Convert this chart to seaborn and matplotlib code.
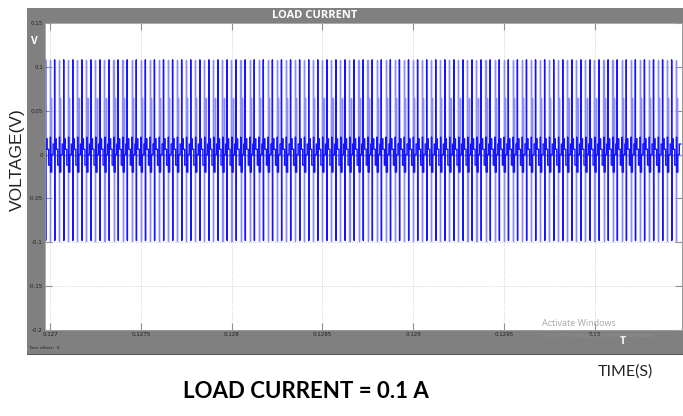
import numpy as np
import pandas as pd
import matplotlib
matplotlib.use("Agg")
import matplotlib.pyplot as plt
from matplotlib.patches import Rectangle
import seaborn as sns

# ---- data ----
t_first = 0.126975          # first switching instant (s)
period_s = 50e-6            # switching period (s)
n_cycles = 70

# one switching cycle of the dark trace (phase in microseconds, value in V)
dark_phase = [0, 0, 0.6, 0.6, 1.2, 1.2, 9, 9, 17, 17, 27, 27, 27.6, 27.6, 34, 34, 42, 42, 50]
dark_value = [0.012, 0.108, 0.108, -0.098, -0.098, 0.018, 0.018, 0.006, 0.006, -0.012,
              -0.012, 0.02, 0.02, -0.02, -0.02, 0.0, 0.0, 0.012, 0.012]
# one switching cycle of the light trace
light_phase = [0, 24, 24, 24.6, 24.6, 25.2, 25.2, 31, 31, 31.6, 31.6, 50]
light_value = [0.0, 0.0, 0.108, 0.108, -0.098, -0.098, 0.0, 0.0, 0.065, 0.065, 0.0, 0.0]

x_ticks = [0.127, 0.1275, 0.128, 0.1285, 0.129, 0.1295, 0.13]
x_tick_labels = ["0.127", "0.1275", "0.128", "0.1285", "0.129", "0.1295", "0.13"]
y_ticks = [0.15, 0.1, 0.05, 0, -0.05, -0.1, -0.15, -0.2]
y_tick_labels = ["0.15", "0.1", "0.05", "0", "-0.05", "-0.1", "-0.15", "-0.2"]

def build(phase, value, trace):
    ts, vs = [], []
    ph = np.array(phase) * 1e-6
    for k in range(n_cycles):
        ts.extend(t_first + k * period_s + ph)
        vs.extend(value)
    return pd.DataFrame({"t": ts, "v": vs, "trace": trace})

df_dark = build(dark_phase, dark_value, "dark")
df_light = build(light_phase, light_value, "light")

W, H = 683, 416
fig = plt.figure(figsize=(W / 100, H / 100), dpi=100)
fig.patch.set_facecolor("white")

def fx(px): return px / W
def fy(py): return 1 - py / H

# gray scope frame
fig.patches.append(Rectangle((fx(27), fy(355)), fx(683) - fx(27), fy(8) - fy(355),
                             transform=fig.transFigure, facecolor="#808080",
                             edgecolor="none", zorder=-5))
fig.patches.append(Rectangle((fx(27), fy(355)), fx(683) - fx(27), 1.2 / H,
                             transform=fig.transFigure, facecolor="#555555",
                             edgecolor="none", zorder=-5))

ax = fig.add_axes([fx(45), fy(330), fx(682) - fx(45), fy(23) - fy(330)])
ax.set_zorder(2)
ax.set_facecolor("white")

sns.lineplot(data=df_light, x="t", y="v", ax=ax, color="#8c8cff", lw=1.0,
             estimator=None, sort=False, legend=False)
sns.lineplot(data=df_dark, x="t", y="v", ax=ax, color="#1414ff", lw=1.0,
             estimator=None, sort=False, legend=False)

ax.set_xlim(0.126972, 0.130482)
ax.set_ylim(-0.2, 0.15)
ax.set_xticks(x_ticks)
ax.set_xticklabels(x_tick_labels)
ax.set_yticks(y_ticks)
ax.set_yticklabels(y_tick_labels)
ax.tick_params(axis="both", direction="in", length=5, width=0.8, color="#909090",
               labelsize=4, labelcolor="#222222", pad=1.5, top=True, right=True)
ax.grid(True, color="#c4c4c4", lw=0.6, linestyle=":")
for s in ax.spines.values():
    s.set_color("#a0a0a0")
    s.set_linewidth(0.6)
ax.set_xlabel("")
ax.set_ylabel("")

# scope texts
fig.text(fx(315), fy(16), "LOAD CURRENT", color="white", fontsize=8,
         fontweight="bold", family="Open Sans", ha="center", va="center", zorder=5)
fig.text(fx(34), fy(42), "V", color="white", fontsize=7.5, fontweight="bold",
         family="Open Sans", ha="center", va="center", zorder=5)
fig.text(fx(623), fy(342), "T", color="white", fontsize=7.5, fontweight="bold",
         family="Open Sans", ha="center", va="center", zorder=5)
fig.text(fx(28), fy(348), "Time offset:  0", color="#222222", fontsize=3.2,
         ha="left", va="center", zorder=5)

# watermark
fig.text(fx(542), fy(324), "Activate Windows", color="#a8a8a8", fontsize=6.5,
         family="Open Sans", ha="left", va="center", zorder=5)
fig.text(fx(542), fy(335), "Go to PC settings to activate Windows.", color="#9a9a9a",
         fontsize=4.6, family="Open Sans", ha="left", va="center", alpha=0.6, zorder=5)

# outer labels
fig.text(fx(17), fy(160), "VOLTAGE(V)", rotation=90, color="#222222", fontsize=12.5,
         family="Liberation Sans", ha="center", va="center")
fig.text(fx(625), fy(372), "TIME(S)", color="#222222", fontsize=11.5,
         family="Lato", ha="center", va="center")
fig.text(fx(306), fy(392), "LOAD CURRENT = 0.1 A", color="black", fontsize=16,
         fontweight="bold", family="Lato", ha="center", va="center")

fig.savefig("out.png", dpi=100, facecolor="white")
